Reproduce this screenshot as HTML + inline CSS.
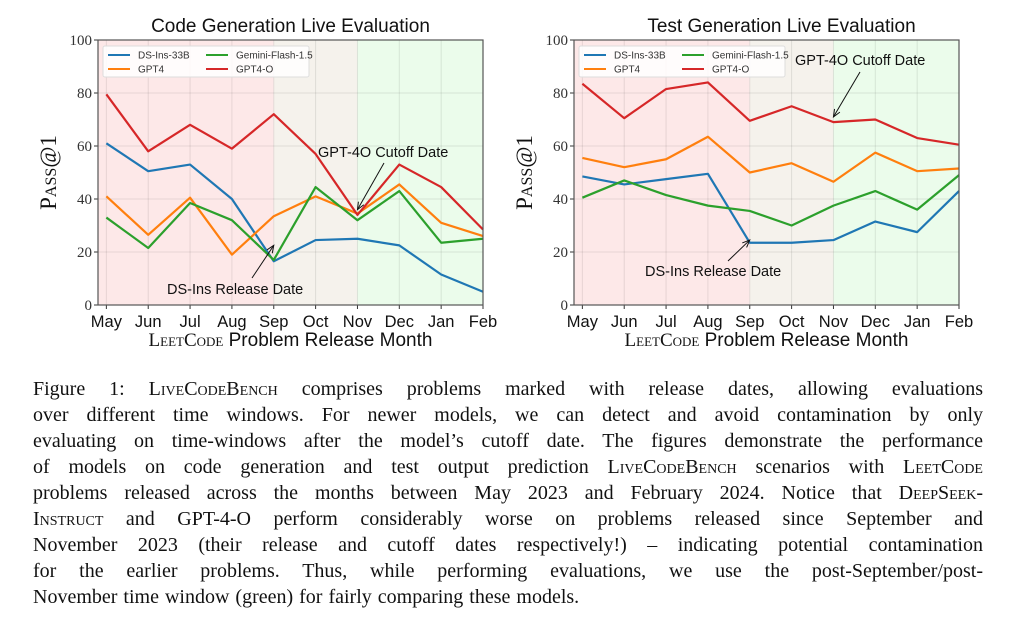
<!DOCTYPE html>
<html><head><meta charset="utf-8"><style>
body{margin:0;background:#fff;width:1010px;height:636px;overflow:hidden;position:relative;font-family:"Liberation Serif",serif}
#cap{position:absolute;left:33px;top:376px;width:950px;font-size:20px;line-height:26px;color:#111;word-spacing:1px}
#cap div{text-align:justify;text-align-last:justify;white-space:nowrap;overflow:visible}
#cap div.last{text-align-last:left}
.sc{font-variant:small-caps}
svg text{font-family:"Liberation Sans",sans-serif}
</style></head><body>
<svg id="chart" width="1010" height="370" style="position:absolute;left:0;top:0"></svg>
<div id="cap">
<div>Figure 1: <span class="sc">LiveCodeBench</span> comprises problems marked with release dates, allowing evaluations</div>
<div>over different time windows. For newer models, we can detect and avoid contamination by only</div>
<div>evaluating on time-windows after the model’s cutoff date. The figures demonstrate the performance</div>
<div>of models on code generation and test output prediction <span class="sc">LiveCodeBench</span> scenarios with <span class="sc">LeetCode</span></div>
<div>problems released across the months between May 2023 and February 2024. Notice that <span class="sc">DeepSeek-</span></div>
<div><span class="sc">Instruct</span> and GPT-4-O perform considerably worse on problems released since September and</div>
<div>November 2023 (their release and cutoff dates respectively!) – indicating potential contamination</div>
<div>for the earlier problems. Thus, while performing evaluations, we use the post-September/post-</div>
<div class="last">November time window (green) for fairly comparing these models.</div>
</div>
<script>
const months=["May","Jun","Jul","Aug","Sep","Oct","Nov","Dec","Jan","Feb"];
const yTicks=[0,20,40,60,80,100];
const seriesNames=["DS-Ins-33B","GPT4","Gemini-Flash-1.5","GPT4-O"];
const codeDS=[61,50.5,53,40,16.5,24.5,25,22.5,11.5,5];
const codeGPT4=[41,26.5,40.5,19,33.5,41,34.5,45.5,31,26];
const codeGemini=[33,21.5,38.5,32,17,44.5,32,43,23.5,25];
const codeGPT4o=[79.5,58,68,59,72,57,34,53,44.5,28.5];
const testDS=[48.5,45.5,47.5,49.5,23.5,23.5,24.5,31.5,27.5,43];
const testGPT4=[55.5,52,55,63.5,50,53.5,46.5,57.5,50.5,51.5];
const testGemini=[40.5,47,41.5,37.5,35.5,30,37.5,43,36,49];
const testGPT4o=[83.5,70.5,81.5,84,69.5,75,69,70,63,60.5];
const colors=["#1f77b4","#ff7f0e","#2ca02c","#d62728"];
const NS="http://www.w3.org/2000/svg";
const svg=document.getElementById('chart');
function mk(tag,attrs,parent){const e=document.createElementNS(NS,tag);for(const k in attrs)e.setAttribute(k,attrs[k]);(parent||svg).appendChild(e);return e;}
function panel(cfg){
  const g=mk('g',{});
  
  
  const L=cfg.left,R=cfg.right,T=40,B=305;
  const x=i=>L+(i+0.2)/9.2*(R-L);
  const y=v=>B-v/100*(B-T);
  const r1=mk('rect',{x:L,y:T,width:x(4)-L,height:B-T,fill:'#fde8e8'},g);
  
  const r2=mk('rect',{x:x(4),y:T,width:x(6)-x(4),height:B-T,fill:'#f5f2ec'},g);
  
  const r3=mk('rect',{x:x(6),y:T,width:R-x(6),height:B-T,fill:'#ebfceb'},g);
  
  months.forEach((m,i)=>{
    mk('line',{x1:x(i),x2:x(i),y1:T,y2:B,stroke:'#000','stroke-opacity':0.09,'stroke-width':1},g);
    mk('line',{x1:x(i),x2:x(i),y1:B,y2:B+4,stroke:'#333'},g);
    const t=mk('text',{x:x(i),y:B+22,'text-anchor':'middle','font-size':16.5,fill:'#111'},g);t.textContent=m;
    
  });
  yTicks.forEach(v=>{
    mk('line',{x1:L,x2:R,y1:y(v),y2:y(v),stroke:'#000','stroke-opacity':0.09},g);
    mk('line',{x1:L-4,x2:L,y1:y(v),y2:y(v),stroke:'#333'},g);
    const t=mk('text',{x:L-6,y:y(v)+5,'text-anchor':'end','font-size':15,fill:'#333',style:'font-family:"Liberation Serif",serif'},g);t.textContent=v;
    
  });
  cfg.series.forEach((s,k)=>{
    const p=mk('polyline',{points:s.map((v,i)=>x(i)+','+y(v)).join(' '),fill:'none',stroke:colors[k],'stroke-width':2.2,'stroke-linejoin':'round'},g);
    
    
  });
  mk('rect',{x:L,y:T,width:R-L,height:B-T,fill:'none',stroke:'#555','stroke-width':1.2},g);
  const lg=mk('g',{},g);
  
  const lx=L+5,ly=T+6;
  mk('rect',{x:lx,y:ly,width:206,height:31,rx:2,fill:'#fff','fill-opacity':0.85,stroke:'#ddd'},lg);
  for(let k=0;k<4;k++){
    const cxx=lx+5+(k===1||k===3?98:0), cyy=ly+9+(k>=2?14:0);
    const nm=[seriesNames[0],seriesNames[2],seriesNames[1],seriesNames[3]][k];
    const cc=[colors[0],colors[2],colors[1],colors[3]][k];
    mk('line',{x1:cxx,x2:cxx+22,y1:cyy,y2:cyy,stroke:cc,'stroke-width':2},lg);
    const t=mk('text',{x:cxx+30,y:cyy+3.5,'font-size':10,fill:'#333'},lg);t.textContent=nm;
    
  }
  const tt=mk('text',{x:(L+R)/2+cfg.titleDx,y:32,'text-anchor':'middle','font-size':19,fill:'#111'},g);tt.textContent=cfg.title;
  
  const xl=mk('text',{x:(L+R)/2,y:346,'text-anchor':'middle','font-size':19,fill:'#111'},g);
  xl.innerHTML='<tspan style="font-family:\'Liberation Serif\',serif;font-variant:small-caps">LeetCode</tspan> Problem Release Month';
  
  const yl=mk('text',{x:0,y:0,'text-anchor':'middle','font-size':23,fill:'#111',transform:`translate(${L-42},${(T+B)/2}) rotate(-90)`,style:'font-family:"Liberation Serif",serif;font-variant:small-caps'},g);yl.textContent='Pass@1';
  
  cfg.ann.forEach(a=>{
    const t=mk('text',{x:a.tx,y:a.ty,'font-size':14.5,fill:'#111'},g);t.textContent=a.text;
    
    const ax=x(a.i),ay=y(a.v);
    mk('line',{x1:a.sx,y1:a.sy,x2:ax,y2:ay,stroke:'#111','stroke-width':1},g);
    const ang=Math.atan2(ay-a.sy,ax-a.sx);
    const p1=[ax-8*Math.cos(ang-0.4),ay-8*Math.sin(ang-0.4)],p2=[ax-8*Math.cos(ang+0.4),ay-8*Math.sin(ang+0.4)];
    mk('polyline',{points:`${p1} ${ax},${ay} ${p2}`,fill:'none',stroke:'#111','stroke-width':1},g);
  });
}
panel({name:'code-generation-chart',left:98,right:483,title:'Code Generation Live Evaluation',titleDx:0,
  series:[codeDS,codeGPT4,codeGemini,codeGPT4o],
  ann:[{text:'DS-Ins Release Date',tx:167,ty:294,sx:252,sy:278,i:4,v:22.5},
       {text:'GPT-4O Cutoff Date',tx:318,ty:157,sx:384,sy:163,i:6,v:36}]});
panel({name:'test-generation-chart',left:574,right:959,title:'Test Generation Live Evaluation',titleDx:15,
  series:[testDS,testGPT4,testGemini,testGPT4o],
  ann:[{text:'DS-Ins Release Date',tx:645,ty:276,sx:728,sy:261,i:4,v:24.5},
       {text:'GPT-4O Cutoff Date',tx:795,ty:65,sx:860,sy:72,i:6,v:71}]});
</script>
</body></html>
